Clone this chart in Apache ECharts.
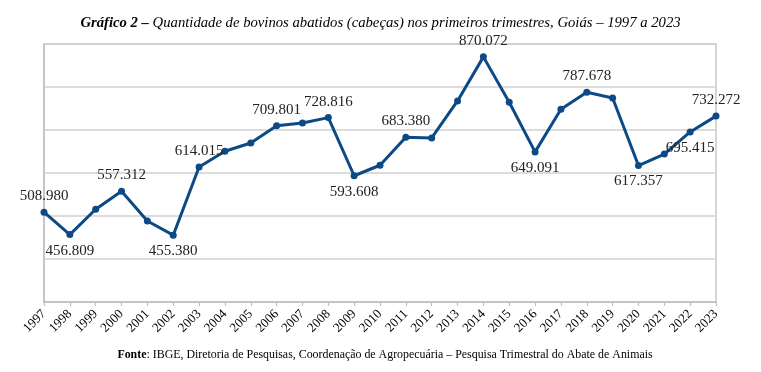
<!DOCTYPE html>
<html>
<head>
<meta charset="utf-8">
<script src="https://cdn.jsdelivr.net/npm/echarts@6/dist/echarts.min.js"></script>
<style>
html,body{margin:0;padding:0;background:#fff;}
#c{width:761px;height:372px;}
</style>
</head>
<body>
<div id="c"></div>
<script>
const years = ['1997','1998','1999','2000','2001','2002','2003','2004','2005','2006','2007','2008','2009','2010','2011','2012','2013','2014','2015','2016','2017','2018','2019','2020','2021','2022','2023'];
const slaughtered = [508980,456809,515600,557312,488400,455380,614015,650500,669800,709801,716400,728816,593608,618000,683380,681500,767500,870072,764500,649091,748200,787678,774500,617357,644000,695415,732272];
const labelledYears = ['1997','1998','2000','2002','2003','2006','2008','2009','2011','2014','2016','2018','2020','2022','2023'];
const labelsBelow = ['1998','2002','2009','2016','2020','2022'];
const titleBold = 'Gráfico 2 –';
const titleRest = ' Quantidade de bovinos abatidos (cabeças) nos primeiros trimestres, Goiás – 1997 a 2023';
const sourceBold = 'Fonte';
const sourceRest = ': IBGE, Diretoria de Pesquisas, Coordenação de Agropecuária – Pesquisa Trimestral do Abate de Animais';

function fmt(v){
  return String(v).replace(/\B(?=(\d{3})+(?!\d))/g,'.');
}
const FONT = "'Liberation Serif','Times New Roman',serif";
const seriesData = slaughtered.map((v,i)=>{
  const y = years[i];
  if(labelledYears.indexOf(y) < 0) return {value:v, label:{show:false}};
  return {value:v, label:{show:true, position: labelsBelow.indexOf(y)>=0 ? 'bottom' : 'top'}};
});

const chart = echarts.init(document.getElementById('c'));
chart.setOption({
  animation:false,
  backgroundColor:'#fff',
  title:[{
    text:'{b|'+titleBold+'}{i|'+titleRest+'}',
    left:'center', top:11,
    textStyle:{fontFamily:FONT,fontSize:14.7,fontWeight:'normal',fontStyle:'italic',color:'#000',rich:{
      b:{fontFamily:FONT,fontSize:14.7,fontWeight:'bold',fontStyle:'italic',color:'#000'},
      i:{fontFamily:FONT,fontSize:14.7,fontWeight:'normal',fontStyle:'italic',color:'#000'}
    }}
  },{
    text:'{b|'+sourceBold+'}{n|'+sourceRest+'}',
    left:380, textAlign:'center', top:344,
    textStyle:{fontFamily:FONT,fontSize:11.9,fontWeight:'normal',color:'#000',rich:{
      b:{fontFamily:FONT,fontSize:11.9,fontWeight:'bold',color:'#000'},
      n:{fontFamily:FONT,fontSize:11.9,fontWeight:'normal',color:'#000'}
    }}
  }],
  grid:{left:44,right:45,top:44,bottom:70,containLabel:false,show:true,borderColor:'#c8c8c8',borderWidth:1.5},
  xAxis:{
    type:'category',data:years,boundaryGap:false,
    axisLine:{lineStyle:{color:'#c0c0c0',width:1.5}},
    axisTick:{show:true,length:4,lineStyle:{color:'#c0c0c0',width:1.2},alignWithLabel:true},
    axisLabel:{rotate:45,fontFamily:FONT,fontSize:13,color:'#000',margin:10,interval:0},
    splitLine:{show:false}
  },
  yAxis:{
    type:'value',min:300000,max:900000,interval:100000,
    axisLabel:{show:false},axisTick:{show:false},
    axisLine:{show:true,lineStyle:{color:'#c0c0c0',width:1.5}},
    splitLine:{show:true,lineStyle:{color:'#d0d0d0',width:1.5}}
  },
  series:[{
    type:'line',data:seriesData,
    symbol:'circle',symbolSize:7,
    lineStyle:{color:'#0c4a86',width:3},
    itemStyle:{color:'#0c4a86'},
    label:{fontFamily:FONT,fontSize:15,color:'#222',distance:5,formatter:p=>fmt(p.value)}
  }]
});
</script>
</body>
</html>
